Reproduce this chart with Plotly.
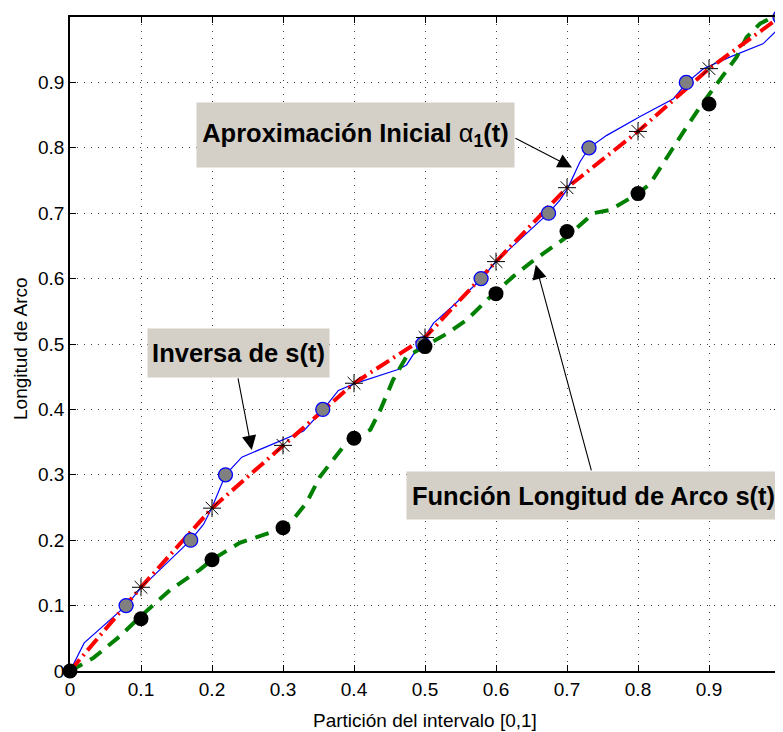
import plotly.graph_objects as go

# particion del intervalo y valores
t_part = [0, 0.1, 0.2, 0.3, 0.4, 0.5, 0.6, 0.7, 0.8, 0.9]
s_vals = [0, 0.08, 0.17, 0.219, 0.356, 0.496, 0.577, 0.672, 0.73, 0.867]
alpha_t = [0, 0.1, 0.2, 0.3, 0.4, 0.5, 0.6, 0.7, 0.8, 0.9, 1.0]
alpha_vals = [0, 0.128, 0.249, 0.345, 0.44, 0.51, 0.626, 0.739, 0.825, 0.921, 1.0]

# puntos de la inversa (marcadores)
inv_x = [0.079, 0.17, 0.219, 0.356, 0.497, 0.579, 0.674, 0.731, 0.868, 1.0]
inv_y = [0.1, 0.2, 0.3, 0.4, 0.5, 0.6, 0.7, 0.8, 0.9, 1.0]

# curva inversa de s(t)
blue_x = [0, 0.02, 0.079, 0.1, 0.17, 0.188, 0.2, 0.219, 0.242, 0.30, 0.329, 0.356, 0.378, 0.4,
          0.462, 0.474, 0.497, 0.512, 0.538, 0.579, 0.6, 0.648, 0.674, 0.69, 0.701, 0.718, 0.731,
          0.756, 0.803, 0.85, 0.868, 0.892, 0.93, 0.976, 0.995, 1.0]
blue_y = [0, 0.043, 0.1, 0.127, 0.2, 0.224, 0.25, 0.3, 0.327, 0.354, 0.367, 0.399, 0.429, 0.439,
          0.461, 0.468, 0.506, 0.532, 0.557, 0.599, 0.626, 0.674, 0.7, 0.72, 0.738, 0.778, 0.8,
          0.819, 0.848, 0.875, 0.899, 0.921, 0.939, 0.959, 0.979, 1.0]

# curva longitud de arco s(t)
green_x = [0, 0.033, 0.07, 0.1, 0.141, 0.183, 0.2, 0.239, 0.286, 0.31, 0.333, 0.352, 0.385, 0.4,
           0.423, 0.437, 0.455, 0.474, 0.499, 0.531, 0.559, 0.592, 0.624, 0.653, 0.70, 0.737,
           0.761, 0.784, 0.8, 0.817, 0.836, 0.859, 0.887, 0.915, 0.939, 0.953, 0.972, 0.985, 1.0]
green_y = [0, 0.02, 0.053, 0.084, 0.124, 0.155, 0.17, 0.196, 0.213, 0.226, 0.257, 0.297, 0.343, 0.356,
           0.369, 0.399, 0.445, 0.481, 0.496, 0.516, 0.537, 0.572, 0.603, 0.628, 0.664, 0.7,
           0.705, 0.72, 0.73, 0.745, 0.776, 0.816, 0.862, 0.903, 0.939, 0.969, 0.99, 0.997, 1.0]

tick_vals = [0, 0.1, 0.2, 0.3, 0.4, 0.5, 0.6, 0.7, 0.8, 0.9]
tick_text = ['0', '0.1', '0.2', '0.3', '0.4', '0.5', '0.6', '0.7', '0.8', '0.9']

fig = go.Figure()

fig.add_trace(go.Scatter(x=blue_x, y=blue_y, mode='lines',
                         line=dict(color='#0000ff', width=1.2), cliponaxis=False))
fig.add_trace(go.Scatter(x=green_x, y=green_y, mode='lines',
                         line=dict(color='#008000', width=4, dash='14px,9px')))
fig.add_trace(go.Scatter(x=alpha_t, y=alpha_vals, mode='lines',
                         line=dict(color='#ff0000', width=4, dash='15px,5px,2px,5px')))
fig.add_trace(go.Scatter(x=inv_x, y=inv_y, mode='markers', cliponaxis=False,
                         marker=dict(symbol='circle', size=14, color='#808080',
                                     line=dict(color='#0000ff', width=1.3))))
fig.add_trace(go.Scatter(x=t_part, y=s_vals, mode='markers', cliponaxis=False,
                         marker=dict(symbol='circle', size=15, color='black')))
fig.add_trace(go.Scatter(x=alpha_t[1:-1], y=alpha_vals[1:-1], mode='markers', cliponaxis=False,
                         marker=dict(symbol='asterisk-open', size=15, color='black',
                                     line=dict(color='black', width=1))))

box_font = dict(family='Liberation Sans, Arial', size=25.5, color='black')

# cajas de texto
fig.add_annotation(x=0.402, y=0.819, xref='x', yref='y', showarrow=False,
                   text='<b>Aproximación Inicial </b>α<sub><b>1</b></sub><b>(t)</b>',
                   font=box_font, bgcolor='#d4d0c8', width=317, height=64, borderpad=0)
fig.add_annotation(x=0.237, y=0.486, xref='x', yref='y', showarrow=False,
                   text='<b>Inversa de s(t)</b>',
                   font=box_font, bgcolor='#d4d0c8', width=181, height=48, borderpad=0)
fig.add_annotation(x=0.737, y=0.269, xref='x', yref='y', showarrow=False,
                   text='<b>Función Longitud de Arco s(t)</b>',
                   font=box_font, bgcolor='#d4d0c8', width=373, height=47, borderpad=0)

# flechas
arrow = dict(xref='x', yref='y', text='', showarrow=True, arrowhead=2, arrowsize=2.6,
             arrowwidth=1.1, arrowcolor='black', standoff=0)
fig.add_annotation(x=0.707, y=0.770, ax=-58, ay=-30, **arrow)
fig.add_annotation(x=0.256, y=0.338, ax=-14, ay=-73, **arrow)
fig.add_annotation(x=0.656, y=0.621, ax=56, ay=207, **arrow)

# titulos de ejes
fig.add_annotation(x=0.5, y=0, xref='paper', yref='paper', yanchor='middle', yshift=-49,
                   showarrow=False, text='Partición del intervalo [0,1]',
                   font=dict(family='Liberation Sans, Arial', size=19, color='black'))
fig.add_annotation(x=0, y=0.5, xref='paper', yref='paper', xanchor='center', yanchor='middle',
                   xshift=-50, yshift=-5, showarrow=False, textangle=-90, text='Longitud de Arco',
                   font=dict(family='Liberation Sans, Arial', size=19, color='black'))

axis_common = dict(range=[0, 1], tickvals=tick_vals, ticktext=tick_text, automargin=False,
                   ticks='inside', ticklen=6, tickcolor='black', tickwidth=1,
                   showline=True, linecolor='black', linewidth=1.5, mirror='allticks',
                   showgrid=True, gridcolor='#444444', gridwidth=1, griddash='1px,6px',
                   zeroline=False, tickfont=dict(family='Liberation Sans, Arial', size=19, color='black'))

fig.update_xaxes(**axis_common)
fig.update_yaxes(**axis_common)

# la pagina tiene 8px de margen en el body
fig.update_layout(width=775, height=724, showlegend=False,
                  margin=dict(l=62, r=3, t=9, b=61),
                  plot_bgcolor='white', paper_bgcolor='white')

fig.write_html('out.html')
